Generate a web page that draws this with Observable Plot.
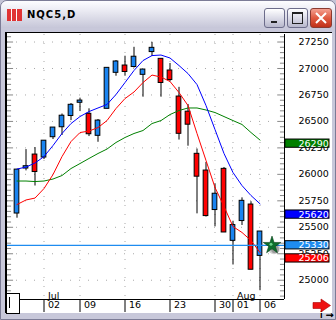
<!DOCTYPE html>
<html><head><meta charset="utf-8">
<script src="https://cdn.jsdelivr.net/npm/d3@7"></script>
<script src="https://cdn.jsdelivr.net/npm/@observablehq/plot@0.6"></script>
<style>
body{margin:0;width:336px;height:320px;overflow:hidden;position:relative;background:#c4c4d6;font-family:"DejaVu Sans",sans-serif}
#win{position:absolute;left:0;top:0;width:334px;height:318px;border:1px solid #7c7c96;border-radius:7px 7px 0 0;background:#c8c8da}
#title{position:absolute;left:1px;top:1px;width:334px;height:27px;border-radius:6px 6px 0 0;background:linear-gradient(#fdfdff,#ebebf3 35%,#c6c6d8 100%)}
#ttext{position:absolute;left:26px;top:8px;font:bold 10px "DejaVu Sans";letter-spacing:1px;color:#000}
#icon{position:absolute;left:6px;top:8px;width:15px;height:12px;background:
 linear-gradient(90deg,#e02020 0 4px,#fff 4px 5px,#e02020 5px 9px,#fff 9px 10px,#e02020 10px 15px);opacity:.9}
.btn{position:absolute;top:7px;width:19px;height:18px;border:1px solid #6c6c8a;border-radius:3px;background:linear-gradient(#ffffff,#dcdce8 50%,#b8b8cc)}
#bmin{left:263px}#bmax{left:286px}
#bcls{left:309px;width:20px;background:linear-gradient(#f4a090,#e05a40 50%,#c03018);border-color:#8a3a30}
#client{position:absolute;left:5px;top:32px;width:325px;height:280px;background:#fff;border-top:1px solid #000;border-left:2px solid #000}
#chart{position:absolute;left:0;top:0}
#box{position:absolute;left:6px;top:293px;width:12px;height:19px;border:1px solid #000;background:#fff}
#box div{position:absolute;left:2px;top:3px;width:1px;height:11px;background:#000}
</style></head>
<body>
<div id="win"></div>
<div id="title">
 <div id="icon"></div>
 <div id="ttext">NQC5,D</div>
 <div class="btn" id="bmin"><div style="position:absolute;left:6px;top:12px;width:6px;height:2px;background:#222"></div></div>
 <div class="btn" id="bmax"><div style="position:absolute;left:4px;top:3px;width:9px;height:9px;border:1px solid #222;border-top-width:2px"></div></div>
 <div class="btn" id="bcls"><svg width="20" height="18" style="position:absolute;left:0;top:0"><path d="M5,4 L15,14 M15,4 L5,14" stroke="#fff" stroke-width="2"/></svg></div>
</div>
<div id="client"></div>
<div id="chart"></div>
<div id="box"><div></div></div>
<svg width="20" height="16" style="position:absolute;left:312px;top:298px"><path d="M1,4.5 H9 V1 L18.5,7.5 L9,14 V10.5 H1 Z" fill="#ee1111" stroke="#a00" stroke-width="0.6"/></svg>
<script>
// ---- data ----
const dates = ["06-27","06-28","06-29","07-02","07-03","07-05","07-06","07-09","07-10","07-11","07-12","07-13","07-16","07-17","07-18","07-19","07-20","07-23","07-24","07-25","07-26","07-27","07-30","07-31","08-01","08-02","08-03","08-06"];
const open  = [25630,26055,26187,26159,26351,26445,26551,26676,26572,26364,26619,26959,27028,27014,26940,27155,27091,26981,26735,26592,26194,26036,25663,26052,25372,25559,25715,25230];
const high  = [26045,26234,26253,26318,26442,26570,26669,26716,26619,26518,27006,27075,27116,27200,26990,27247,27091,27047,26822,26660,26239,26112,25911,26065,25557,25778,25741,25460];
const low   = [25586,26033,25890,26140,26329,26367,26508,26593,26357,26303,26619,26927,26927,27004,26729,27113,26729,26872,26324,26266,25627,25597,25504,25451,25144,25517,25099,24901];
const close = [26045,26077,26022,26318,26442,26554,26657,26697,26379,26508,27006,27066,26967,27111,26990,27195,26863,26891,26383,26469,25978,25606,25817,25451,25521,25750,25099,25460];
const maBlue  = [26050,26069,26107,26168,26272,26386,26480,26546,26593,26627,26660,26754,26867,26981,27075,27122,27127,27099,27028,26952,26848,26650,26423,26197,26017,25894,25800,25722];
const maRed   = [25715,25758,25776,25866,25998,26168,26310,26395,26409,26442,26508,26622,26716,26778,26867,26938,26919,26877,26773,26650,26386,26131,25876,25696,25507,25451,25375,25262];
const maGreen = [25937,25937,25932,25937,25956,25989,26055,26102,26150,26197,26239,26301,26348,26386,26414,26480,26508,26565,26603,26627,26627,26608,26584,26546,26508,26471,26395,26324];
const priceTicks = [25000,25250,25500,25750,26000,26250,26500,26750,27000,27250];
const tickDates  = ["07-02","07-09","07-16","07-23","07-30","08-01","08-06"];
const tickLabels = ["02","09","16","23","30","01","06"];
const monthDates  = ["07-02","08-01"];
const monthLabels = ["Jul","Aug"];
const lastPrice = 25330;
const markerValues = [26290,25620,25330,25206];
const markerColors = ["#008000","#0000ff","#1e8cf0","#ff0000"];

// ---- build ----
const candles = dates.map((d,i)=>({i,d,o:open[i],h:high[i],l:low[i],c:close[i],up:close[i]>=open[i]}));
const lines = [["g",maGreen,"#008000"],["r",maRed,"#ff0000"],["b",maBlue,"#0000ff"]]
  .flatMap(([k,arr,col])=>arr.map((v,i)=>({k,i,v,col})));
const tickIdx = tickDates.map(t=>dates.indexOf(t));
const tickMap = new Map(tickIdx.map((t,j)=>[t,tickLabels[j]]));
const months = monthDates.map((m,j)=>({i:dates.indexOf(m),t:monthLabels[j]}));
const minor = d3.range(24850,27321,50);
const major = new Set(priceTicks);
const markers = markerValues.map((v,j)=>({v,col:markerColors[j]}));
const lastPt = [{i:candles.length-1,v:lastPrice}];

const xLo=-1.0556, xHi=29.722, yLo=24818, yHi=27321;
const tk = 0.45; // tick length in x units
const boxH = 39;

const chart = Plot.plot({
  width:336, height:320,
  marginTop:34, marginBottom:21, marginLeft:7, marginRight:52,
  x:{type:"linear",domain:[xLo,xHi],axis:null},
  y:{type:"linear",domain:[yLo,yHi],axis:null},
  style:{background:"transparent",fontFamily:"DejaVu Sans",fontSize:"9.5px",overflow:"visible"},
  marks:[
    Plot.ruleY(priceTicks,{stroke:"#a8a8a8",strokeDasharray:"1,8"}),
    Plot.ruleX(tickIdx,{stroke:"#a8a8a8",strokeDasharray:"1,8"}),
    Plot.ruleY(minor,{x1:xLo,x2:d=>xLo+(major.has(d)?tk*1.5:tk),stroke:"#888"}),
    Plot.ruleY(minor,{x1:d=>xHi-(major.has(d)?tk*1.5:tk),x2:xHi,stroke:"#888"}),
    Plot.ruleX(candles,{x:"i",y1:"l",y2:"h",stroke:"#000"}),
    Plot.rect(candles,{x1:d=>d.i-0.26,x2:d=>d.i+0.26,y1:"o",y2:"c",fill:d=>d.up?"#1a84f0":"#ff0000",stroke:"#000",strokeWidth:1}),
    Plot.line(lines,{x:"i",y:"v",z:"k",stroke:"col",strokeWidth:1}),
    Plot.ruleY([lastPrice],{stroke:"#1e8cf0",strokeWidth:1.3}),
    Plot.dot(lastPt,{x:"i",y:"v",dx:14,dy:3,r:6,fill:"#000",fillOpacity:0.18,stroke:null}),
    Plot.dot(lastPt,{x:"i",y:"v",dx:15,dy:4,r:4,fill:"#000",fillOpacity:0.25,stroke:null}),
    Plot.dot(lastPt,{x:"i",y:"v",dx:12,symbol:"star",r:5.5,fill:"#0c6e2c",stroke:"#064018",strokeWidth:0.6}),
    Plot.dot(lastPt,{x:"i",y:"v",dx:11,dy:-1,r:1.5,fill:"#6ad08a"}),
    Plot.ruleX([xHi],{stroke:"#000"}),
    Plot.ruleY([yLo],{stroke:"#000"}),
    Plot.axisY(priceTicks,{anchor:"right",tickSize:0,tickPadding:14,tickFormat:d=>String(d),fill:"#000",fontSize:9.5}),
    Plot.rect(markers,{x1:xHi+0.1,x2:xHi+5,y1:d=>d.v-boxH,y2:d=>d.v+boxH,fill:"col",stroke:"#000"}),
    Plot.text(markers,{x:xHi,y:"v",dx:14,text:d=>String(d.v),fill:"#fff",textAnchor:"start",fontSize:9.5}),
    Plot.axisX(tickIdx,{anchor:"bottom",tickSize:13,tickFormat:()=>"",stroke:"#000"}),
    Plot.axisX(tickIdx,{anchor:"bottom",tickSize:0,tickPadding:2,textAnchor:"start",dx:4,tickFormat:d=>tickMap.get(d),fill:"#000",fontSize:9.5}),
    Plot.text(months,{x:"i",text:"t",frameAnchor:"bottom",lineAnchor:"bottom",dy:-1,dx:4,textAnchor:"start",fill:"#000",fontSize:9.5})
  ]
});
document.getElementById("chart").appendChild(chart);
</script>
</body></html>
